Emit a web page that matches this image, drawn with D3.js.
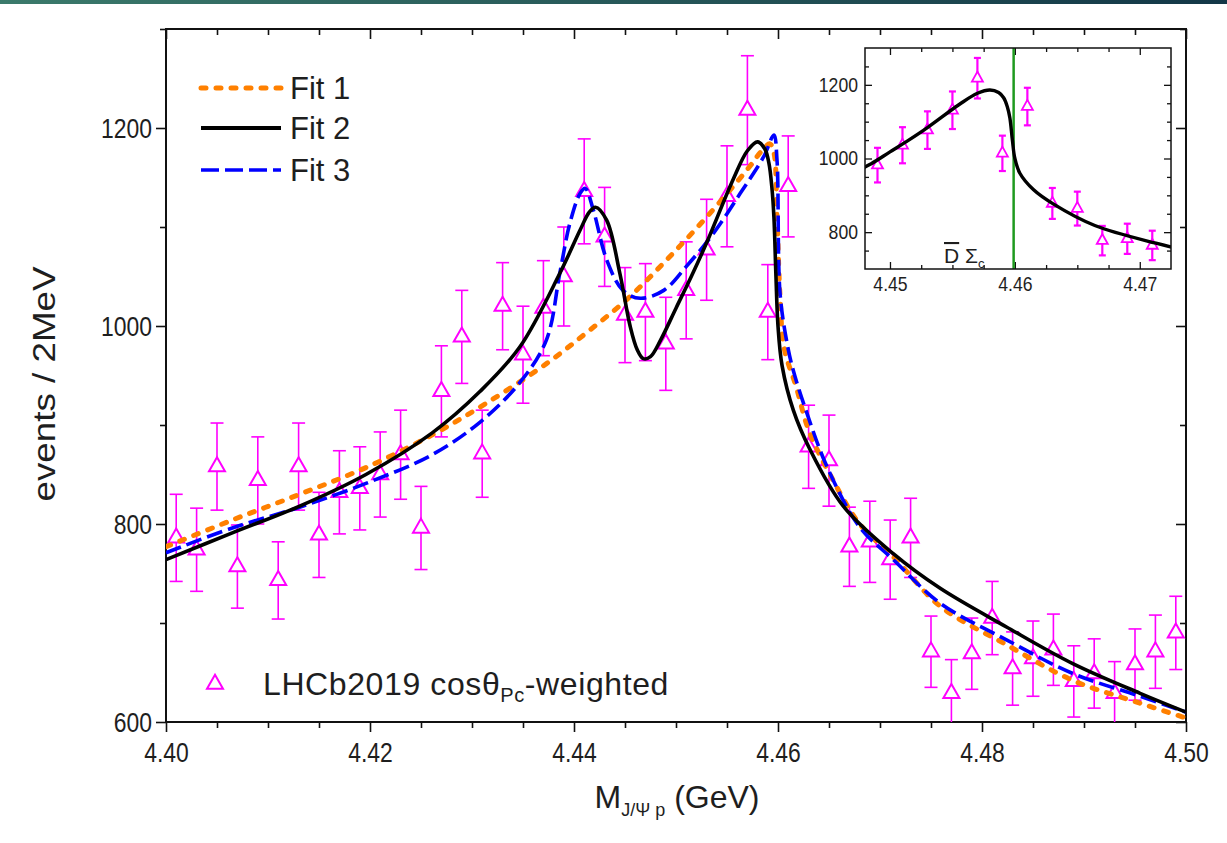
<!DOCTYPE html>
<html>
<head>
<meta charset="utf-8">
<script src="https://cdn.jsdelivr.net/npm/d3@7/dist/d3.min.js"></script>
<style>
  html, body { margin: 0; padding: 0; background: #fff; }
  svg { display: block; font-family: "Liberation Sans", Arial, sans-serif; }
</style>
</head>
<body>
<svg id="chart" width="1227" height="843"></svg>
<script>
// ---- measured J/psi p invariant-mass spectrum (2 MeV bins) ----
const binMass = [4.401, 4.403, 4.405, 4.407, 4.409, 4.411, 4.413, 4.415, 4.417, 4.419,
                 4.421, 4.423, 4.425, 4.427, 4.429, 4.431, 4.433, 4.435, 4.437, 4.439,
                 4.441, 4.443, 4.445, 4.447, 4.449, 4.451, 4.453, 4.455, 4.457, 4.459,
                 4.461, 4.463, 4.465, 4.467, 4.469, 4.471, 4.473, 4.475, 4.477, 4.479,
                 4.481, 4.483, 4.485, 4.487, 4.489, 4.491, 4.493, 4.495, 4.497, 4.499];
const binEvents = [786, 774, 858, 757, 844, 743, 858, 789, 832, 836,
                   850, 870, 796, 934, 989, 871, 1020, 971, 1018, 1050,
                   1136, 1090, 1011, 1014, 982, 1036, 1077, 1131, 1218, 1014,
                   1141, 878, 864, 777, 782, 764, 786, 671, 629, 669,
                   705, 654, 664, 673, 641, 649, 629, 658, 671, 690];
const binError = [44, 42, 44, 42, 44, 39, 44, 43, 42, 42,
                  43, 45, 42, 46, 47, 44, 44, 49, 48, 50,
                  53, 50, 48, 49, 47, 49, 51, 51, 55, 48,
                  51, 42, 46, 40, 41, 40, 40, 36, 34, 36,
                  37, 37, 38, 36, 36, 35, 32, 36, 37, 37];

// ---- fit curves, sampled [mass, events] ----
const fit1 = [[4.400, 777], [4.4065, 804], [4.4131, 830], [4.4196, 857], [4.4261, 890],
              [4.4314, 922], [4.4373, 962], [4.4412, 993], [4.4452, 1027], [4.4491, 1067],
              [4.453, 1110], [4.4569, 1157], [4.4585, 1178], [4.4592, 1184], [4.4596, 1175],
              [4.4599, 1110], [4.4602, 1030], [4.4606, 978], [4.4618, 938], [4.463, 895],
              [4.4651, 850], [4.468, 800], [4.4713, 767], [4.4759, 717], [4.4824, 678],
              [4.4889, 642], [4.4955, 619], [4.500, 604]];
const fit2 = [[4.400, 764], [4.4065, 791], [4.4131, 818], [4.4196, 850], [4.4261, 892],
              [4.4308, 934], [4.4347, 979], [4.4386, 1053], [4.4406, 1097],
              [4.4415, 1115], [4.4421, 1120], [4.4432, 1107], [4.4445, 1053], [4.4455, 1000],
              [4.4462, 976], [4.4468, 967], [4.4475, 969], [4.4485, 986], [4.450, 1018],
              [4.4515, 1050], [4.453, 1084], [4.4556, 1148],
              [4.457, 1177], [4.458, 1186], [4.4587, 1179], [4.4591, 1165], [4.4594, 1140],
              [4.4596, 1110], [4.4598, 1050], [4.4600, 1000], [4.4604, 960], [4.4615, 915],
              [4.4631, 876], [4.4664, 818], [4.4713, 770], [4.4759, 735], [4.4824, 696],
              [4.4889, 659], [4.4955, 629], [4.500, 610]];
const fit3 = [[4.400, 771], [4.4065, 796], [4.4131, 817], [4.4196, 841], [4.4261, 870],
              [4.4308, 903], [4.4347, 943], [4.4373, 986], [4.4386, 1053], [4.4396, 1104],
              [4.4406, 1134], [4.4411, 1139], [4.4419, 1117], [4.4432, 1067], [4.4448, 1036],
              [4.4465, 1028], [4.4488, 1036], [4.451, 1060], [4.4537, 1094], [4.4563, 1134],
              [4.4586, 1171], [4.4596, 1193], [4.4599, 1168], [4.4602, 1033], [4.4609, 982],
              [4.4615, 955], [4.4628, 913], [4.4648, 858], [4.468, 797], [4.4713, 764],
              [4.4759, 720], [4.4824, 683], [4.4889, 649], [4.4955, 626], [4.500, 610]];

// ---- axis ticks ----
const xMajorTicks = [4.40, 4.42, 4.44, 4.46, 4.48, 4.50];
const yMajorTicks = [600, 800, 1000, 1200];
const insetXTicks = [4.45, 4.46, 4.47];
const insetYTicks = [800, 1000, 1200];
const thresholdMass = 4.4599;

const fitNames = ["Fit 1", "Fit 2", "Fit 3"];
const dataName = "LHCb2019";

const svg = d3.select("#chart");
const W = 1227, H = 843;
const ink = "#1e1e1e";

// header strip
const defs = svg.append("defs");
const grad = defs.append("linearGradient").attr("id", "strip").attr("x1", "0").attr("x2", "1");
grad.append("stop").attr("offset", "0").attr("stop-color", "#3b7a6b");
grad.append("stop").attr("offset", "1").attr("stop-color", "#133747");
svg.append("rect").attr("x", 0).attr("y", 0).attr("width", W).attr("height", 4).attr("fill", "url(#strip)");

// ---- main panel ----
const M = { l: 166, r: 1186, t: 29, b: 722 };
const x = d3.scaleLinear().domain([4.40, 4.50]).range([M.l, M.r]);
const y = d3.scaleLinear().domain([600, 1300]).range([M.b, M.t]);

defs.append("clipPath").attr("id", "mainClip").append("rect")
  .attr("x", M.l).attr("y", M.t).attr("width", M.r - M.l).attr("height", M.b - M.t);

const xMinor = d3.range(0, 21).map(i => 4.40 + i * 0.005).filter(v => !xMajorTicks.some(t => Math.abs(t - v) < 1e-9));
const yMinor = [700, 900, 1100, 1300];

function styleAxis(g) {
  g.select(".domain").remove();
  g.selectAll(".tick line").attr("stroke", "#111").attr("stroke-width", 1.6);
  g.selectAll(".tick text").attr("fill", ink).attr("font-size", 27).attr("transform", "scale(0.85,1)");
}

// bottom
svg.append("g").attr("transform", `translate(0,${M.b})`)
  .call(d3.axisBottom(x).tickValues(xMajorTicks).tickSize(10).tickPadding(11).tickFormat(d3.format(".2f")))
  .call(styleAxis);
svg.append("g").attr("transform", `translate(0,${M.b})`)
  .call(d3.axisBottom(x).tickValues(xMinor).tickSize(6).tickFormat(""))
  .call(styleAxis);
// top (inward)
svg.append("g").attr("transform", `translate(0,${M.t})`)
  .call(d3.axisBottom(x).tickValues(xMajorTicks).tickSize(10).tickFormat(""))
  .call(styleAxis);
svg.append("g").attr("transform", `translate(0,${M.t})`)
  .call(d3.axisBottom(x).tickValues(xMinor).tickSize(6).tickFormat(""))
  .call(styleAxis);
// left
svg.append("g").attr("transform", `translate(${M.l},0)`)
  .call(d3.axisLeft(y).tickValues(yMajorTicks).tickSize(10).tickPadding(6.5).tickFormat(d3.format("d")))
  .call(styleAxis).call(g => g.selectAll("text").attr("dy", "0.34em"));
svg.append("g").attr("transform", `translate(${M.l},0)`)
  .call(d3.axisLeft(y).tickValues(yMinor).tickSize(6).tickFormat(""))
  .call(styleAxis);
// right (inward)
svg.append("g").attr("transform", `translate(${M.r},0)`)
  .call(d3.axisLeft(y).tickValues(yMajorTicks).tickSize(10).tickFormat(""))
  .call(styleAxis);
svg.append("g").attr("transform", `translate(${M.r},0)`)
  .call(d3.axisLeft(y).tickValues(yMinor).tickSize(6).tickFormat(""))
  .call(styleAxis);

// frame
svg.append("rect").attr("x", M.l).attr("y", M.t).attr("width", M.r - M.l).attr("height", M.b - M.t)
  .attr("fill", "none").attr("stroke", "#111").attr("stroke-width", 2);

// axis titles
svg.append("text").attr("transform", "translate(55,384) rotate(-90) scale(1.15,1)")
  .attr("text-anchor", "middle").attr("font-size", 32).attr("fill", ink).text("events / 2MeV");
const xt = svg.append("text").attr("x", 677).attr("y", 808).attr("text-anchor", "middle")
  .attr("font-size", 32).attr("fill", ink);
xt.append("tspan").text("M");
xt.append("tspan").attr("font-size", 18).attr("dy", 8).text("J/Ψ p");
xt.append("tspan").attr("dy", -8).text(" (GeV)");

// ---- data points ----
const magenta = "#ff00ff";
const points = binMass.map((m, i) => ({ m, v: binEvents[i], e: binError[i] }));

function triPath(w, h) {
  return `M0,${-h * 2 / 3}L${w / 2},${h / 3}L${-w / 2},${h / 3}Z`;
}

function drawPoints(g, xs, ys, pts, opt) {
  const grp = g.append("g");
  const pt = grp.selectAll("g").data(pts).join("g");
  pt.append("line").attr("x1", d => xs(d.m)).attr("x2", d => xs(d.m))
    .attr("y1", d => ys(d.v - d.e)).attr("y2", d => ys(d.v + d.e))
    .attr("stroke", magenta).attr("stroke-width", opt.bw);
  [1, -1].forEach(s => {
    pt.append("line").attr("x1", d => xs(d.m) - opt.cap / 2).attr("x2", d => xs(d.m) + opt.cap / 2)
      .attr("y1", d => ys(d.v + s * d.e)).attr("y2", d => ys(d.v + s * d.e))
      .attr("stroke", magenta).attr("stroke-width", opt.bw);
  });
  pt.append("path").attr("d", triPath(opt.tw, opt.th))
    .attr("transform", d => `translate(${xs(d.m)},${ys(d.v)})`)
    .attr("fill", "#fff").attr("stroke", magenta).attr("stroke-width", opt.sw);
}

const mainG = svg.append("g").attr("clip-path", "url(#mainClip)");
drawPoints(mainG, x, y, points, { bw: 1.6, cap: 13, tw: 16, th: 14, sw: 2 });

// ---- fit curves ----
const fitStyles = [
  { data: fit1, color: "#ff8000", width: 5, dash: "5,10", cap: "round" },
  { data: fit3, color: "#0000ff", width: 3.6, dash: "16,6", cap: "butt" },
  { data: fit2, color: "#000000", width: 3.6, dash: null, cap: "butt" }
];
const smooth = d3.curveCatmullRom.alpha(0.5);
const line = d3.line().x(d => x(d[0])).y(d => y(d[1])).curve(smooth);
fitStyles.forEach(s => {
  mainG.append("path").attr("d", line(s.data)).attr("fill", "none")
    .attr("stroke", s.color).attr("stroke-width", s.width)
    .attr("stroke-dasharray", s.dash).attr("stroke-linecap", s.cap);
});

// ---- legend ----
const legendRows = [
  { name: fitNames[0], color: "#ff8000", width: 5, dash: "5,10", cap: "round", y: 88 },
  { name: fitNames[1], color: "#000000", width: 3.8, dash: null, cap: "butt", y: 128 },
  { name: fitNames[2], color: "#0000ff", width: 3.6, dash: "18,6", cap: "butt", y: 170 }
];
legendRows.forEach(r => {
  svg.append("line").attr("x1", 201).attr("x2", 281).attr("y1", r.y).attr("y2", r.y)
    .attr("stroke", r.color).attr("stroke-width", r.width)
    .attr("stroke-dasharray", r.dash).attr("stroke-linecap", r.cap);
  svg.append("text").attr("x", 290).attr("y", r.y + 11).attr("font-size", 31).attr("fill", ink).text(r.name);
});
svg.append("path").attr("d", triPath(16, 14)).attr("transform", "translate(215,684)")
  .attr("fill", "#fff").attr("stroke", magenta).attr("stroke-width", 2);
const lt = svg.append("text").attr("x", 263).attr("y", 695).attr("font-size", 32)
  .attr("letter-spacing", 0.6).attr("fill", ink);
lt.append("tspan").text(dataName + " cosθ");
lt.append("tspan").attr("font-size", 20).attr("dy", 7).text("Pc");
lt.append("tspan").attr("dy", -7).text("-weighted");

// ---- inset: zoom on the D̄Σc threshold ----
const I = { l: 865, r: 1171, t: 48, b: 269 };
const xi = d3.scaleLinear().domain([4.448, 4.4725]).range([I.l, I.r]);
const yi = d3.scaleLinear().domain([700, 1300]).range([I.b, I.t]);

svg.append("rect").attr("x", I.l).attr("y", I.t).attr("width", I.r - I.l).attr("height", I.b - I.t)
  .attr("fill", "#fff");
defs.append("clipPath").attr("id", "insetClip").append("rect")
  .attr("x", I.l).attr("y", I.t).attr("width", I.r - I.l).attr("height", I.b - I.t);

const xiMinor = d3.range(0, 10).map(i => 4.4475 + i * 0.0025)
  .filter(v => v > 4.448 && v < 4.4725 && !insetXTicks.some(t => Math.abs(t - v) < 1e-9));
const yiMinor = [750, 850, 900, 950, 1050, 1100, 1150, 1250];

function insetAxis(axisFn, scale, vals, size, tx, ty) {
  const g = svg.append("g").attr("transform", `translate(${tx},${ty})`)
    .call(axisFn(scale).tickValues(vals).tickSize(size).tickFormat(""));
  g.select(".domain").remove();
  g.selectAll(".tick line").attr("stroke", "#111").attr("stroke-width", 1.3);
  return g;
}
// labels sit outside; tick marks point into the box
const xl = svg.append("g").attr("transform", `translate(0,${I.b})`)
  .call(d3.axisBottom(xi).tickValues(insetXTicks).tickSize(0).tickPadding(8).tickFormat(d3.format(".2f")));
xl.select(".domain").remove();
xl.selectAll("text").attr("font-size", 20).attr("fill", ink).attr("transform", "scale(0.88,1)");
const yl = svg.append("g").attr("transform", `translate(${I.l},0)`)
  .call(d3.axisLeft(yi).tickValues(insetYTicks).tickSize(0).tickPadding(8).tickFormat(d3.format("d")));
yl.select(".domain").remove();
yl.selectAll("text").attr("font-size", 20).attr("fill", ink).attr("transform", "scale(0.88,1)");

insetAxis(d3.axisTop, xi, insetXTicks, 7, 0, I.b);
insetAxis(d3.axisTop, xi, xiMinor, 4, 0, I.b);
insetAxis(d3.axisBottom, xi, insetXTicks, 7, 0, I.t);
insetAxis(d3.axisBottom, xi, xiMinor, 4, 0, I.t);
insetAxis(d3.axisRight, yi, insetYTicks, 7, I.l, 0);
insetAxis(d3.axisRight, yi, yiMinor, 4, I.l, 0);
insetAxis(d3.axisLeft, yi, insetYTicks, 7, I.r, 0);
insetAxis(d3.axisLeft, yi, yiMinor, 4, I.r, 0);

const insetG = svg.append("g").attr("clip-path", "url(#insetClip)");
insetG.append("line").attr("x1", xi(thresholdMass)).attr("x2", xi(thresholdMass))
  .attr("y1", I.t).attr("y2", I.b).attr("stroke", "#1f9a1f").attr("stroke-width", 2.5);
drawPoints(insetG, xi, yi, points.filter(d => d.m > 4.448 && d.m < 4.4725),
  { bw: 2.2, cap: 7, tw: 11, th: 10, sw: 1.8 });
const lineI = d3.line().x(d => xi(d[0])).y(d => yi(d[1])).curve(smooth);
insetG.append("path").attr("d", lineI(fit2)).attr("fill", "none")
  .attr("stroke", "#000").attr("stroke-width", 3.4);

svg.append("rect").attr("x", I.l).attr("y", I.t).attr("width", I.r - I.l).attr("height", I.b - I.t)
  .attr("fill", "none").attr("stroke", "#111").attr("stroke-width", 1.5);

const th = svg.append("text").attr("x", 944).attr("y", 263).attr("font-size", 21).attr("fill", ink);
th.append("tspan").attr("text-decoration", "overline").text("D");
th.append("tspan").text(" Σ");
th.append("tspan").attr("font-size", 13).attr("dy", 5).text("c");
</script>
</body>
</html>
